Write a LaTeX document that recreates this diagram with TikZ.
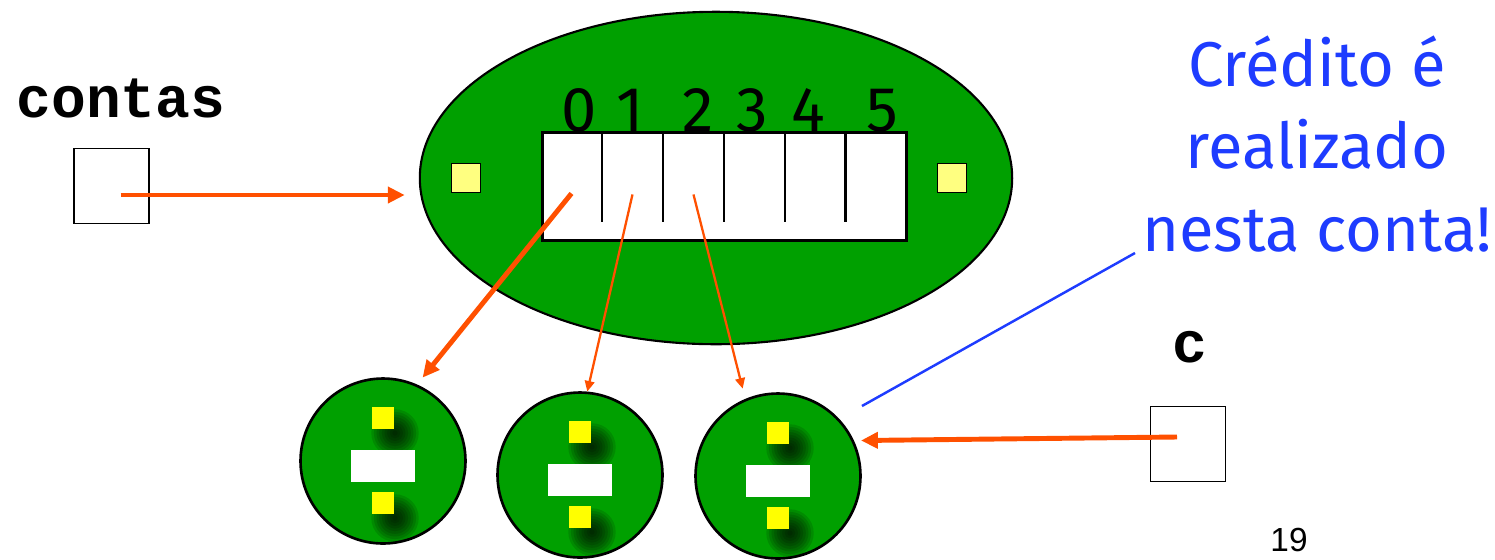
\documentclass[tikz,border=0pt]{standalone}
\usepackage{fontspec}
\setmonofont{Liberation Mono}
\newfontfamily\handfont{Fira Sans}
\newfontfamily\numfont{Liberation Sans}
\usetikzlibrary{positioning, calc, shapes.geometric, arrows.meta}

\definecolor{accgreen}{RGB}{0,160,0}
\definecolor{ptrorange}{RGB}{255,80,0}
\definecolor{noteblue}{RGB}{30,60,255}
\definecolor{lockyellow}{RGB}{255,255,128}
\definecolor{fieldyellow}{RGB}{255,255,0}

\begin{document}
\begin{tikzpicture}[
            x=0.02cm, y=-0.02cm,
            refbox/.style = {rectangle, draw=black, line width=1.1pt, minimum size=1.5cm, inner sep=0pt},
            varname/.style = {font=\ttfamily\bfseries\fontsize{33}{33}\selectfont, inner sep=0pt, anchor=base},
            digit/.style = {font=\handfont\fontsize{36}{36}\selectfont, inner sep=0pt, anchor=base},
            lock/.style = {rectangle, draw=black, line width=1.1pt, fill=lockyellow, minimum size=0.58cm, inner sep=0pt},
            account/.style = {circle, draw=black, line width=1.5pt, fill=accgreen, minimum size=3.3cm, inner sep=0pt,
                    path picture={
                        % soft shadows under the two fields
                        \foreach \dy in {-43,42}
                            \foreach \r in {1.5,3,...,13.5}
                                \fill[black, opacity=0.13] ($(path picture bounding box.center)+(12,\dy+15)$) circle [radius=\r pt];
                        \fill[white] ($(path picture bounding box.center)+(-32,-11)$) rectangle ($(path picture bounding box.center)+(32,21)$);
                        \foreach \dy in {-43,42}
                            \fill[fieldyellow] ($(path picture bounding box.center)+(-11,\dy-11)$) rectangle ($(path picture bounding box.center)+(11,\dy+11)$);
                    }},
            thickptr/.style = {draw=ptrorange, line width=2.8pt, -{Triangle[length=9.6pt, width=9pt]}},
            thinptr/.style = {draw=ptrorange, line width=1.3pt, -{Triangle[length=6pt, width=5.5pt]}},
            notetext/.style = {font=\handfont\fontsize{36}{47}\selectfont, text=noteblue, align=center, inner sep=0pt},
            noteline/.style = {draw=noteblue, line width=1.4pt}
        ]
        \useasboundingbox (0,0) rectangle (1495,559);
        \clip (0,0) rectangle (1495,559);

        % the array object
        \node (vec) [ellipse, draw=black, line width=1.2pt, fill=accgreen, minimum width=11.85cm, minimum height=6.65cm, inner sep=0pt] at (716,178) {};
        \node (arr) [rectangle, draw=black, line width=1.2pt, fill=white, minimum width=7.28cm, minimum height=2.16cm, inner sep=0pt] at (724.5,186.5) {};
        \foreach \i in {1,...,5}
            \draw[line width=1.2pt] ($(arr.north west)+(\i*60.8,0)$) -- ++(0,91);
        \foreach \x/\d in {579/0, 630/1, 698/2, 752/3, 808/4, 882/5}
            \node (idx\d) [digit] at (\x,131) {\d};
        \node (lockl) [lock] at (466,178) {};
        \node (lockr) [lock] at (952,178) {};

        % account objects
        \node (acc1) [account] at (383,461) {};
        \node (acc2) [account] at (580,475) {};
        \node (acc3) [account] at (778,476) {};

        % variables
        \node (contasbox) [refbox] at (111.5,186) {};
        \node (contaslbl) [varname] at (121,117) {contas};
        \node (cbox)      [refbox] at (1188,444) {};
        \node (clbl)      [varname] at (1190,362) {c};

        % references
        \draw[thickptr] ($(contasbox.center)+(9,9)$) -- ($(vec.west)+(-14,17)$);
        \draw[thickptr, shorten >=5pt] ($(arr.north west)+(30,62)$) -- (acc1.66);
        \draw[thinptr] ($(arr.north west)+(91,63)$) -- (acc2.85);
        \draw[thinptr, shorten >=6pt] ($(arr.north west)+(152,63)$) -- (acc3.113);
        \draw[thickptr, shorten >=4pt] ($(cbox.center)+(-11,-7)$) -- (acc3.25);

        % comment
        \node (note) [notetext, anchor=north] at (1317,35) {Crédito é\\realizado\\nesta conta!};
        \coordinate (notefoot) at (1135,253);
        \coordinate (notetip) at (862,406);
        \draw[noteline] (notefoot) -- (notetip);

        \node (pagenum) [font=\numfont\fontsize{19}{19}\selectfont, anchor=south, inner sep=0pt] at (1289,552) {19};
    \end{tikzpicture}
\end{document}
